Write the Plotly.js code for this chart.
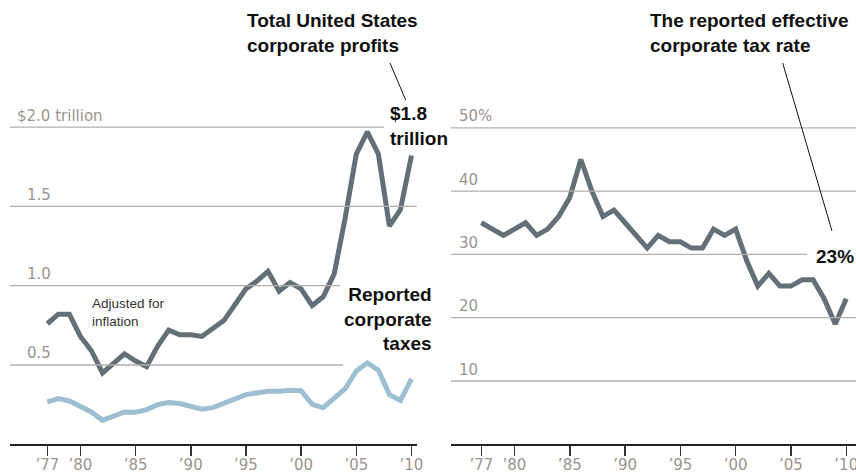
<!DOCTYPE html>
<html><head><meta charset="utf-8">
<script src="https://cdn.plot.ly/plotly-3.0.1.min.js"></script>
<style>html,body{margin:0;padding:0;background:#fff}#chart{width:856px;height:476px}</style>
</head><body><div id="chart"></div>
<script>
// ---- data ----
const years = [1977,1978,1979,1980,1981,1982,1983,1984,1985,1986,1987,1988,1989,1990,1991,1992,1993,1994,1995,1996,1997,1998,1999,2000,2001,2002,2003,2004,2005,2006,2007,2008,2009,2010];
const profits = [0.76,0.82,0.82,0.68,0.59,0.45,0.51,0.57,0.525,0.49,0.62,0.72,0.69,0.69,0.68,0.73,0.78,0.88,0.98,1.03,1.09,0.965,1.02,0.98,0.875,0.93,1.075,1.43,1.83,1.97,1.83,1.375,1.48,1.82];
const taxes = [0.267,0.288,0.273,0.235,0.204,0.151,0.177,0.204,0.202,0.219,0.25,0.263,0.257,0.242,0.221,0.231,0.26,0.288,0.313,0.324,0.334,0.334,0.34,0.338,0.252,0.231,0.288,0.351,0.462,0.513,0.467,0.313,0.277,0.412];
const taxRate = [35,34,33,34,35,33,34,36,39,45,40,36,37,35,33,31,33,32,32,31,31,34,33,34,29,25,27,25,25,26,26,23,19,23];
const xTickVals = [1977,1980,1985,1990,1995,2000,2005,2010];
const xTickText = ["’77","’80","’85","’90","’95","’00","’05","’10"];
const profitTickVals = [0.5,1.0,1.5,2.0];
const profitTickText = ["0.5","1.0","1.5","$2.0 trillion"];
const rateTickVals = [10,20,30,40,50];
const rateTickText = ["10","20","30","40","50%"];

// ---- layout helpers (pixel -> paper) ----
const W = 856, H = 476;
const px = v => v / W;
const py = v => 1 - v / H;

const DARK = '#637078', LIGHT = '#9dbfd2', GRID = '#b3aeaa', LABEL = '#9b948f';
const TICKFONT = {family: 'DejaVu Sans', size: 15, color: LABEL};
const BOLD = {family: 'Liberation Sans, Arial, sans-serif', size: 19, color: '#111', weight: 'bold'};

const traces = [
  {x: years, y: profits, xaxis: 'x', yaxis: 'y', mode: 'lines', line: {color: DARK, width: 5}, hoverinfo: 'skip'},
  {x: years, y: taxes, xaxis: 'x', yaxis: 'y', mode: 'lines', line: {color: LIGHT, width: 5}, hoverinfo: 'skip'},
  {x: years, y: taxRate, xaxis: 'x2', yaxis: 'y2', mode: 'lines', line: {color: DARK, width: 5}, hoverinfo: 'skip'}
];

// gridline extents in px (left/right ends)
const leftGridEnds = {0.5: 343, 1.0: 340, 1.5: 417, 2.0: 384};
const rightGridEnds = {10: 856, 20: 856, 30: 807, 40: 856, 50: 856};

const shapes = [];
profitTickVals.forEach(v => shapes.push({type: 'line', xref: 'paper', yref: 'y', x0: px(10), x1: px(leftGridEnds[v]), y0: v, y1: v, line: {color: GRID, width: 1.3}}));
rateTickVals.forEach(v => shapes.push({type: 'line', xref: 'paper', yref: 'y2', x0: px(451), x1: px(rightGridEnds[v]), y0: v, y1: v, line: {color: GRID, width: 1.3}}));
// leader lines
shapes.push({type: 'line', xref: 'paper', yref: 'paper', x0: px(390), y0: py(63), x1: px(405.7), y1: py(100), line: {color: '#111', width: 1}});
shapes.push({type: 'line', xref: 'paper', yref: 'paper', x0: px(782.7), y0: py(63), x1: px(832), y1: py(231), line: {color: '#111', width: 1}});

const annotations = [];
profitTickVals.forEach((v, i) => {
  const t = profitTickText[i];
  annotations.push({xref: 'paper', yref: 'y', x: px(t.startsWith('$') ? 15 : 25), y: v, xanchor: 'left', yanchor: 'middle', yshift: 11.5, text: t, showarrow: false, font: TICKFONT});
});
rateTickVals.forEach((v, i) => {
  annotations.push({xref: 'paper', yref: 'y2', x: px(457), y: v, xanchor: 'left', yanchor: 'middle', yshift: 11.5, text: rateTickText[i], showarrow: false, font: TICKFONT});
});
annotations.push(
  {xref: 'paper', yref: 'paper', x: px(245), y: py(33.3), xanchor: 'left', yanchor: 'middle', align: 'left', text: 'Total United States<br>corporate profits', showarrow: false, font: BOLD},
  {xref: 'paper', yref: 'paper', x: px(648), y: py(33.3), xanchor: 'left', yanchor: 'middle', align: 'left', text: 'The reported effective<br>corporate tax rate', showarrow: false, font: BOLD},
  {xref: 'paper', yref: 'paper', x: px(388), y: py(126), xanchor: 'left', yanchor: 'middle', align: 'left', text: '$1.8<br>trillion', showarrow: false, font: BOLD},
  {xref: 'paper', yref: 'paper', x: px(434.5), y: py(318.8), xanchor: 'right', yanchor: 'middle', align: 'right', text: 'Reported<br>corporate<br>taxes', showarrow: false, font: BOLD},
  {xref: 'paper', yref: 'paper', x: px(814), y: py(256), xanchor: 'left', yanchor: 'middle', align: 'left', text: '23%', showarrow: false, font: BOLD},
  {xref: 'paper', yref: 'paper', x: px(89.5), y: py(312), xanchor: 'left', yanchor: 'middle', align: 'left', text: 'Adjusted for<br>inflation', showarrow: false, font: {family: 'Liberation Sans, Arial, sans-serif', size: 13.5, color: '#333'}}
);

const xCommon = {
  tickmode: 'array', tickvals: xTickVals, ticktext: xTickText,
  ticks: 'outside', ticklen: 10, tickwidth: 1.5, tickcolor: '#333',
  ticklabelstandoff: -4, ticklabeloverflow: 'allow',
  showline: true, linecolor: '#222', linewidth: 1.5,
  showgrid: false, zeroline: false, tickfont: TICKFONT, fixedrange: true
};
const yDomain = [(H - 444.3) / H, 1];

const layout = {
  width: W, height: H,
  margin: {l: 0, r: 0, t: 0, b: 0},
  paper_bgcolor: '#fff', plot_bgcolor: 'rgba(0,0,0,0)',
  showlegend: false,
  xaxis: Object.assign({}, xCommon, {domain: [px(10), px(417)], range: [1973.62, 2010.5], anchor: 'y'}),
  yaxis: {domain: yDomain, range: [0, 2.801], showgrid: false, zeroline: false, showticklabels: false, showline: false, anchor: 'x', fixedrange: true},
  xaxis2: Object.assign({}, xCommon, {domain: [px(451), 1], range: [1974.26, 2010.88], anchor: 'y2'}),
  yaxis2: {domain: yDomain, range: [0, 70.19], showgrid: false, zeroline: false, showticklabels: false, showline: false, anchor: 'x2', fixedrange: true},
  shapes: shapes,
  annotations: annotations
};

Plotly.newPlot('chart', traces, layout, {displayModeBar: false, staticPlot: true});
</script>
</body></html>
